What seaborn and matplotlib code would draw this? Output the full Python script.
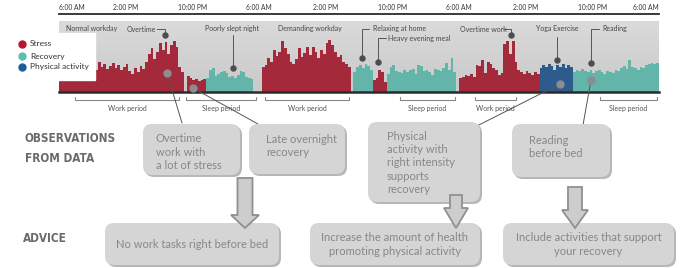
import numpy as np
import pandas as pd
import seaborn as sns
import matplotlib.pyplot as plt
from matplotlib import font_manager
from matplotlib.colors import LinearSegmentedColormap
from matplotlib.patches import FancyBboxPatch, Rectangle, Polygon

# ---------------- data ----------------
# one bar every 20 minutes, each day runs 6:00 AM -> 6:00 AM (72 bars)
day1 = [12, 12, 12, 12, 12, 12, 12, 12, 12, 12, 12,
        24, 27, 22, 30, 25, 28, 23, 26, 29, 24, 27, 22, 25, 28, 21, 18, 24,
        20, 26, 23, 30, 38, 44, 33, 40, 49, 42, 50, 38, 47, 51, 45, 25, 20,
        0,
        16, 14, 12, 13, 11, 12, 13,
        14, 22, 24, 16, 18, 20, 21, 19, 15, 16, 14, 17, 21, 20, 15, 14, 13,
        0, 0]
day2 = [0,
        25, 27, 34, 30, 42, 36, 40, 51, 44, 38, 30, 28, 33, 44, 35, 39,
        45, 37, 45, 40, 34, 42, 38, 49, 52, 47, 40, 35, 37, 30, 28, 25,
        0,
        20, 25, 27, 24, 28, 26, 22,
        12, 14, 22, 20, 10,
        18, 25, 27, 21, 20, 19, 22, 20, 22, 23, 18, 27, 26, 21, 22, 20,
        17, 23, 22, 21, 24, 29, 22, 34, 20,
        0]
day3 = [14, 15, 17, 16, 18, 15, 27, 26, 32, 19, 30, 28, 24, 22, 17, 19,
        48, 51, 38, 51, 30, 22, 20, 18, 21, 19, 17, 20, 18,
        24, 27, 25, 28, 26, 22, 27, 25, 28, 24, 27, 25,
        20, 22, 21, 23, 21, 20, 22, 19, 21, 22, 20, 18, 21, 20, 19, 22, 21,
        24, 26, 23, 32, 25, 24, 22, 25, 24, 27, 28, 29, 28, 29]

# state of each bar, as runs of (state, number of bars)
day1_states = [("Stress", 53), ("Recovery", 17), ("none", 2)]
day2_states = [("none", 1), ("Stress", 32), ("none", 1), ("Recovery", 7),
               ("Stress", 5), ("Recovery", 25), ("none", 1)]
day3_states = [("Stress", 29), ("Physical activity", 12), ("Recovery", 31)]

legend_labels = ["Stress", "Recovery", "Physical activity"]
state_colors = {"Stress": "#b8152d", "Recovery": "#55c3b2",
                "Physical activity": "#1d5c9c", "none": "#cfcfcf"}

tick_hours = [0, 8, 16, 24, 32, 40, 48, 56, 64, 72]
tick_labels = ["6:00 AM", "2:00 PM", "10:00 PM", "6:00 AM", "2:00 PM",
               "10:00 PM", "6:00 AM", "2:00 PM", "10:00 PM", "6:00 AM"]

periods = ["Work period", "Sleep period", "Work period",
           "Sleep period", "Work period", "Sleep period"]
observations = ["Overtime\nwork with\na lot of stress",
                "Late overnight\nrecovery",
                "Physical\nactivity with\nright intensity\nsupports\nrecovery",
                "Reading\nbefore bed"]
advice = ["No work tasks right before bed",
          "Increase the amount of health\npromoting physical activity",
          "Include activities that support\nyour recovery"]

heights = day1 + day2 + day3
states = []
for runs in (day1_states, day2_states, day3_states):
    for name, n in runs:
        states += [name] * n
df = pd.DataFrame({"slot": range(len(heights)), "level": heights, "state": states})

# ---------------- fonts ----------------
ttf = font_manager.fontManager.ttflist
names = {f.name for f in ttf}
if "Liberation Sans Narrow" in names:
    head_font, head_size, head_stretch = "Liberation Sans Narrow", 10, "normal"
elif any(f.name == "DejaVu Sans" and f.stretch == "condensed" for f in ttf):
    head_font, head_size, head_stretch = "DejaVu Sans", 8.5, "condensed"
else:
    head_font, head_size, head_stretch = "DejaVu Sans", 7.5, "normal"

sns.set_style("white")
plt.rcParams["font.family"] = ["Lato", "DejaVu Sans"]

W, H = 694, 268
fig = plt.figure(figsize=(W / 100, H / 100), dpi=100)

# ---------------- bar chart ----------------
ax = fig.add_axes([59 / W, 1 - 92 / H, 600 / W, 71 / H])
sns.barplot(data=df, x="slot", y="level", hue="state", palette=state_colors,
            dodge=False, width=1, linewidth=0, errorbar=None, legend=False, ax=ax)
grad = LinearSegmentedColormap.from_list("panel", ["#c9c9c9", "#dadada"])
ax.imshow(np.linspace(0, 1, 60).reshape(-1, 1), cmap=grad, origin="lower",
          extent=[-0.5, len(heights) - 0.5, 0, 71], aspect="auto", zorder=0)
ax.set_xlim(-0.5, len(heights) - 0.5)
ax.set_ylim(0, 71)
ax.set_xlabel("")
ax.set_ylabel("")
ax.set_yticks([])
for s in ["left", "right"]:
    ax.spines[s].set_visible(False)
ax.spines["bottom"].set_color("#2b2b2b")
ax.spines["bottom"].set_linewidth(1.8)
ax.spines["top"].set_position(("outward", 5))
ax.spines["top"].set_color("#2b2b2b")
ax.spines["top"].set_linewidth(1.3)

ax.xaxis.tick_top()
ax.set_xticks([h * 3 - 0.5 for h in tick_hours])
ax.set_xticklabels(tick_labels, fontsize=4.8, color="#333333")
ax.set_xticks([h * 3 - 0.5 for h in tick_hours if h % 24 == 0], minor=True)
ax.tick_params(axis="x", which="major", length=0, pad=2.5)
ax.tick_params(axis="x", which="minor", length=3, width=1.3, direction="in",
               color="#2b2b2b", top=True, bottom=False)
lbls = ax.get_xticklabels()
lbls[0].set_ha("left")
lbls[-1].set_ha("right")

# ---------------- overlay (annotations, boxes) ----------------
ov = fig.add_axes([0, 0, 1, 1])
ov.set_xlim(0, W)
ov.set_ylim(H, 0)
ov.axis("off")

# legend
ov.add_patch(Rectangle((0, 33), 95, 47, color="white", zorder=1))
for lab, y in zip(legend_labels, [44, 56, 67]):
    ov.plot(22, y, "o", ms=5, color=state_colors[lab], zorder=2)
    ov.text(30, y, lab, fontsize=6, color="#333333", va="center", zorder=2)

# labels inside the chart
ann = dict(fontsize=5, color="#484848", va="center", zorder=3)
pin = dict(color="#555555", lw=0.7, zorder=3)
dot = dict(marker="o", ms=3.6, color="#4d4d4d", zorder=3)
ov.text(66, 29, "Normal workday", **ann)
ov.text(127, 29, "Overtime", **ann)
ov.plot([157, 165, 165], [29, 29, 35], **pin)
ov.plot(165, 35, **dot)
ov.text(205, 29, "Poorly slept night", **ann)
ov.plot([233, 233], [35, 68], **pin)
ov.plot(233, 68, **dot)
ov.text(278, 29, "Demanding workday", **ann)
ov.text(373, 29, "Relaxing at home", **ann)
ov.plot([369, 362, 362], [29, 29, 58], **pin)
ov.plot(362, 58, **dot)
ov.text(388, 38, "Heavy evening meal", **ann)
ov.plot([386, 378, 378], [38, 38, 62], **pin)
ov.plot(378, 62, **dot)
ov.text(460, 29, "Overtime work", **ann)
ov.plot([503, 511, 511], [29, 29, 35], **pin)
ov.plot(511, 35, **dot)
ov.text(536, 29, "Yoga Exercise", **ann)
ov.plot([557, 557], [37, 60], **pin)
ov.plot(557, 60, **dot)
ov.text(602, 29, "Reading", **ann)
ov.plot([599, 591, 591], [29, 29, 63], **pin)
ov.plot(591, 63, **dot)

# period brackets
for lab, (x0, x1) in zip(periods, [(75, 179), (186, 256), (265, 349),
                                   (400, 455), (475, 516), (600, 657)]):
    ov.plot([x0, x0, x1, x1], [97, 100, 100, 97], color="#8a8a8a", lw=0.8)
    ov.text((x0 + x1) / 2, 108, lab, fontsize=5, color="#555555",
            ha="center", va="center")

# observation connectors
for (x0, y0), (x1, y1) in [((167, 73), (182, 123)), ((193, 88), (258, 124)),
                           ((560, 84), (467, 131)), ((591, 80), (583, 125))]:
    ov.plot([x0, x1], [y0, y1], color="#555555", lw=0.7, zorder=2)
    ov.plot(x0, y0, "o", ms=5, color="#8d8d8d", zorder=3)


def box(x0, y0, x1, y1, r=9):
    style = f"round,pad=0,rounding_size={r}"
    ov.add_patch(FancyBboxPatch((x0 + 2, y0 + 2), x1 - x0, y1 - y0, boxstyle=style,
                                fc="#b7b7b7", ec="none", zorder=4))
    ov.add_patch(FancyBboxPatch((x0, y0), x1 - x0, y1 - y0, boxstyle=style,
                                fc="#d5d5d5", ec="none", zorder=5))


def arrow(cx, y0, y1, y2, sw, hw):
    pts = [(cx - sw, y0), (cx + sw, y0), (cx + sw, y1), (cx + hw, y1),
           (cx, y2), (cx - hw, y1), (cx - sw, y1)]
    ov.add_patch(Polygon(pts, closed=True, fc="#cdcdcd", ec="#8f8f8f",
                         lw=1.3, zorder=7))


txt = dict(fontsize=8, color="#878787", va="center", zorder=6, linespacing=1.25)
obs_boxes = [(143, 124, 240, 175), (249, 124, 345, 174),
             (368, 122, 480, 202), (512, 124, 610, 177)]
obs_text = [(156, 152), (266, 146), (387, 163), (529, 147)]
for (x0, y0, x1, y1), (tx, ty), t in zip(obs_boxes, obs_text, observations):
    box(x0, y0, x1, y1)
    ov.text(tx, ty, t, ha="left", **txt)

adv_boxes = [(105, 223, 279, 265), (310, 223, 480, 265), (503, 223, 674, 265)]
for (x0, y0, x1, y1), t in zip(adv_boxes, advice):
    box(x0, y0, x1, y1)
    ov.text((x0 + x1) / 2, 244.5, t, ha="center", **txt)

arrow(245, 178, 215, 228, 7.5, 14)
arrow(456, 195, 208, 228, 6, 12)
arrow(575, 187, 210, 228, 7, 13)

head = dict(family=head_font, fontsize=head_size, fontweight="bold",
            fontstretch=head_stretch, color="#6a6a6a", va="center")
ov.text(25, 138, "OBSERVATIONS", **head)
ov.text(25, 159, "FROM DATA", **head)
ov.text(23, 238, "ADVICE", **head)

fig.savefig("out.png", dpi=100)
